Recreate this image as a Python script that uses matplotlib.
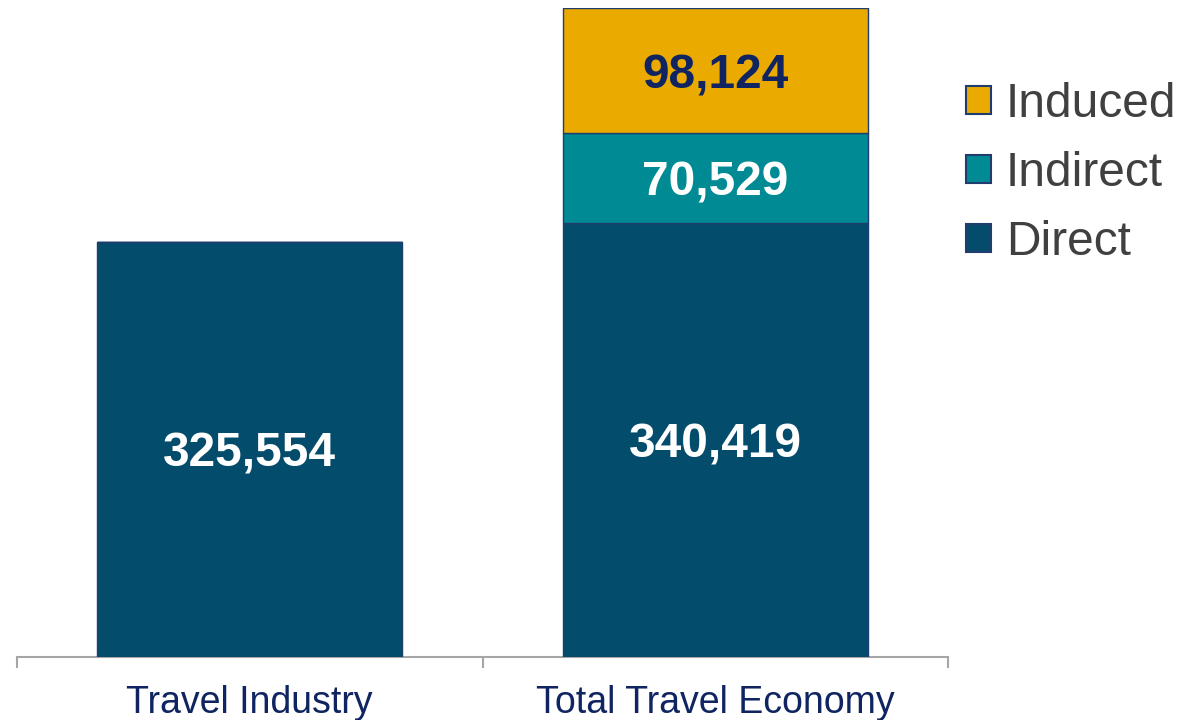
import matplotlib
matplotlib.use("Agg")
import matplotlib.pyplot as plt
from matplotlib.patches import Patch
from matplotlib.transforms import offset_copy

plt.rcParams['font.family'] = ['Liberation Sans', 'DejaVu Sans']

categories = ["Travel Industry", "Total Travel Economy"]
direct = [325554, 340419]
indirect = [0, 70529]
induced = [0, 98124]
series_names = ["Direct", "Indirect", "Induced"]

colors = {"Direct": "#044C6C", "Indirect": "#008B94", "Induced": "#EAAA00"}
label_colors = {"Direct": "white", "Indirect": "white", "Induced": "#0F2460"}
edge = "#1F3D6E"

fig = plt.figure(figsize=(11.89, 7.20), dpi=100)
ax = fig.add_axes([17/1189, 63/720, (948-17)/1189, (657-8)/720])
txt_tr = offset_copy(ax.transData, fig=fig, x=0, y=-5, units="dots")

x = list(range(len(categories)))
width = 0.655
bottoms = [0, 0]
for name, vals in zip(series_names, [direct, indirect, induced]):
    bars = ax.bar(x, vals, width, bottom=bottoms, color=colors[name],
                  edgecolor=edge, linewidth=1.0, label=name, zorder=2)
    for b, v, bt in zip(bars, vals, bottoms):
        if v > 0:
            ax.text(b.get_x() + b.get_width()/2, bt + v/2, f"{v:,}",
                    ha="center", va="center", fontsize=34.5, fontweight="bold",
                    color=label_colors[name], zorder=3, transform=txt_tr)
    bottoms = [a + b for a, b in zip(bottoms, vals)]

ax.set_xlim(-0.5, 1.5)
ax.set_ylim(0, max(bottoms))
for s in ["top", "right", "left"]:
    ax.spines[s].set_visible(False)
ax.spines["bottom"].set_color("#A6A6A6")
ax.spines["bottom"].set_linewidth(1.5)
ax.spines["bottom"].set_zorder(1)
ax.set_yticks([])
ax.set_xticks(x)
ax.set_xticklabels(categories, fontsize=27, color="#0F2460")
ax.tick_params(axis="x", which="major", length=0, pad=20.5)
ax.set_xticks([-0.5, 0.5, 1.5], minor=True)
ax.tick_params(axis="x", which="minor", length=8, width=1.5, color="#A6A6A6", direction="out")

handles = [Patch(facecolor=colors[n], edgecolor=edge, linewidth=1.5) for n in series_names[::-1]]
fig.legend(handles, series_names[::-1], loc="upper left",
           bbox_to_anchor=(966/1189, 1 - 82/720), frameon=False, fontsize=34.5,
           handlelength=0.53, handleheight=0.53, handletextpad=0.3,
           labelspacing=0.5, borderpad=0, borderaxespad=0, labelcolor="#404040")

fig.savefig("out.png", dpi=100)
